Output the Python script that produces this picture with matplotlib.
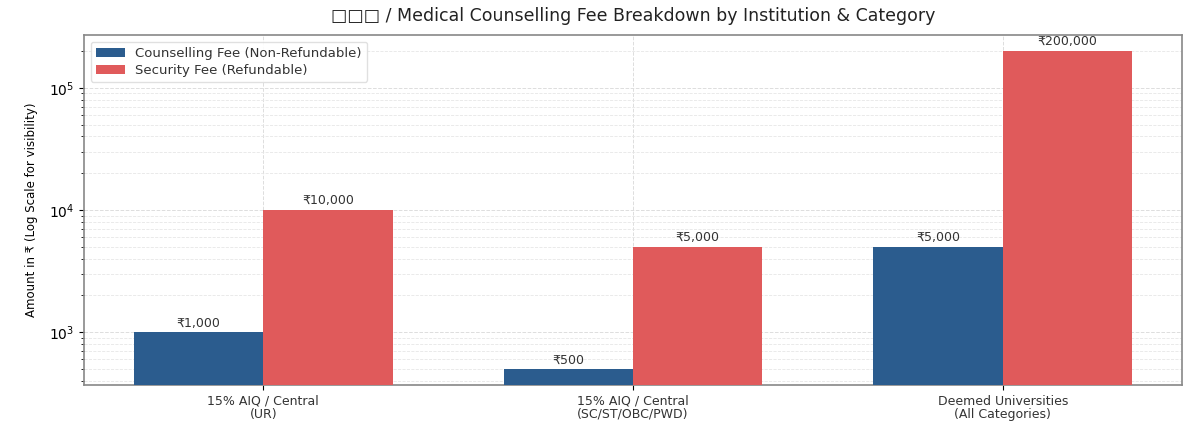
import matplotlib.pyplot as plt
import numpy as np

categories = ['15% AIQ / Central\n(UR)', '15% AIQ / Central\n(SC/ST/OBC/PWD)', 'Deemed Universities\n(All Categories)']
counselling_fee = [1000, 500, 5000]
security_fee = [10000, 5000, 200000]

color_blue = '#2b5c8e'
color_red = '#e05a5b'

fig = plt.figure(figsize=(12, 4.22), dpi=100)
ax = fig.add_axes([0.07, 0.0877, 0.915, 0.8293])

x = np.arange(len(categories))
w = 0.35

b1 = ax.bar(x - w/2, counselling_fee, w, color=color_blue, label='Counselling Fee (Non-Refundable)', zorder=3)
b2 = ax.bar(x + w/2, security_fee, w, color=color_red, label='Security Fee (Refundable)', zorder=3)

ax.set_yscale('log')

for bars in (b1, b2):
    for r in bars:
        h = r.get_height()
        ax.text(r.get_x() + r.get_width()/2, h * 1.05, f'₹{h:,.0f}',
                ha='center', va='bottom', fontsize=9, color='#333333')

ax.set_xticks(x)
ax.set_xticklabels(categories, fontsize=9, color='#333333', linespacing=1.0)
ax.tick_params(axis='y', labelsize=10)
ax.tick_params(axis='y', which='minor', length=2.5)
ax.set_ylabel('Amount in ₹ (Log Scale for visibility)', fontsize=8.5, labelpad=8)
ax.set_title('□□□ / Medical Counselling Fee Breakdown by Institution & Category', fontsize=12.5, color='#222222', pad=10)

ax.grid(True, which='major', axis='y', linestyle='--', color='#dddddd', linewidth=0.7, zorder=0)
ax.grid(True, which='minor', axis='y', linestyle='--', color='#e6e6e6', linewidth=0.6, zorder=0)
ax.grid(True, which='major', axis='x', linestyle='--', color='#dddddd', linewidth=0.7, zorder=0)

for s in ax.spines.values():
    s.set_color('#888888')
    s.set_linewidth(1.2)

ax.legend(loc='upper left', fontsize=9.5, framealpha=0.9, edgecolor='#dddddd',
          handlelength=2.2, labelspacing=0.3, labelcolor='#333333')

fig.savefig('out.png', dpi=100)
